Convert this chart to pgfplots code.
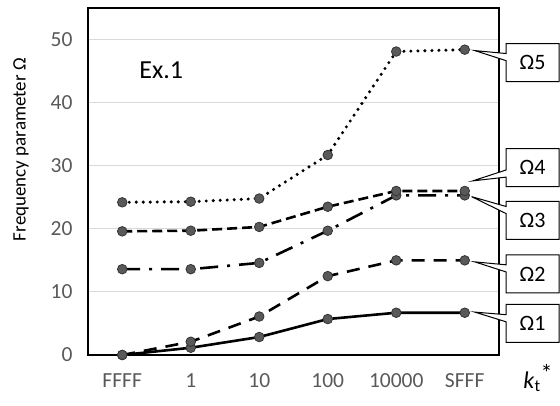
\documentclass[border=0pt]{standalone}
\usepackage{pgfplots}
\pgfplotsset{compat=1.18}
\usepackage{fontspec}
\setmainfont{Carlito}
\usetikzlibrary{shapes.callouts}
\definecolor{tickgray}{HTML}{595959}
\definecolor{gridgray}{HTML}{D9D9D9}
\definecolor{markgray}{HTML}{595959}
\begin{document}
\begin{tikzpicture}
\begin{axis}[
  scale only axis,
  width=411pt, height=347pt,
  xmin=-0.5, xmax=5.5, ymin=0, ymax=55,
  xtick={0,1,2,3,4,5},
  xticklabels={FFFF,1,10,100,10000,SFFF},
  ytick={0,10,20,30,40,50},
  ymajorgrids, grid style={gridgray, line width=1pt},
  major tick length=0pt,
  axis line style={black, line width=1.3pt},
  tick label style={font=\fontsize{21.5}{24}\selectfont, text=tickgray},
  /pgf/number format/assume math mode=true,
  xticklabel style={yshift=-15pt},
  yticklabel style={xshift=-12pt},
  ylabel={Frequency parameter Ω},
  ylabel style={font=\fontsize{19}{22}\selectfont, at={(axis description cs:-0.163,0.592)}, anchor=center},
  clip=false,
  every axis plot/.append style={line width=2.6pt, black, line join=round,
    mark=*, mark size=4.8pt, mark options={solid, fill=markgray, draw=black!80, line width=0.8pt}},
]
% Omega 1
\addplot[solid] coordinates {(0,0) (1,1.15) (2,2.85) (3,5.7) (4,6.7) (5,6.7)};
% Omega 2
\addplot[dash pattern=on 13pt off 9pt] coordinates {(0,0) (1,2.1) (2,6.1) (3,12.5) (4,15.0) (5,15.0)};
% Omega 3
\addplot[dash pattern=on 18pt off 9pt on 3pt off 9pt] coordinates {(0,13.6) (1,13.6) (2,14.6) (3,19.7) (4,25.3) (5,25.3)};
% Omega 4
\addplot[dash pattern=on 10pt off 5pt] coordinates {(0,19.6) (1,19.7) (2,20.3) (3,23.5) (4,26.0) (5,26.0)};
% Omega 5
\addplot[line cap=round, dash pattern=on 0pt off 7pt, line width=3.4pt] coordinates {(0,24.2) (1,24.3) (2,24.8) (3,31.7) (4,48.1) (5,48.4)};

\node[font=\fontsize{26}{30}\selectfont] at (axis cs:0.57,45.1) {Ex.1};
\node[font=\fontsize{24}{28}\selectfont] at (axis cs:6.07,-3.65) {\textit{k}\textsubscript{t}\raisebox{7pt}{*}};

\tikzset{omg/.style={rectangle callout, draw=black, fill=white, line width=1pt,
  minimum width=53pt, minimum height=38pt, inner sep=0pt, font=\fontsize{22}{24}\selectfont}}
\node[omg, callout absolute pointer={(axis cs:5.146,48.25)}] at (axis cs:5.99,46.35) {Ω5};
\node[omg, callout absolute pointer={(axis cs:5.117,27.6)}] at (axis cs:5.99,29.68) {Ω4};
\node[omg, callout absolute pointer={(axis cs:5.10,25.1)}] at (axis cs:5.99,21.35) {Ω3};
\node[omg, callout absolute pointer={(axis cs:5.146,14.76)}] at (axis cs:5.99,12.86) {Ω2};
\node[omg, callout absolute pointer={(axis cs:5.146,6.8)}] at (axis cs:5.99,5.0) {Ω1};
\end{axis}
\pgfresetboundingbox
\path[use as bounding box] (-88pt,-50pt) rectangle (472pt,355pt);
\end{tikzpicture}
\end{document}
